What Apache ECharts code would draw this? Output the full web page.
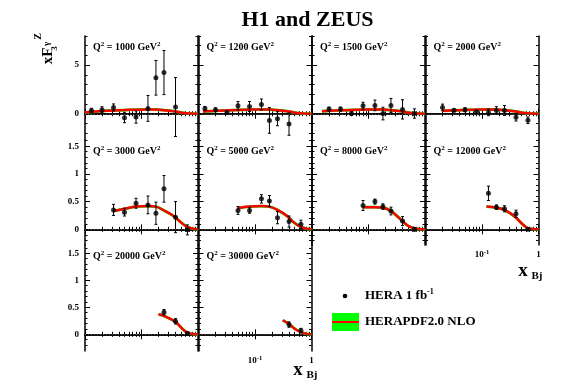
<!DOCTYPE html>
<html><head><meta charset="utf-8">
<script src="https://cdn.jsdelivr.net/npm/echarts@6/dist/echarts.min.js"></script>
<style>html,body{margin:0;padding:0;background:#fff}#c{width:567px;height:390px}</style>
</head><body><div id="c"></div>
<script>
const FONT = '"Liberation Serif", "DejaVu Serif", serif';

// ---- data ----
const panelQ2 = [1000, 1200, 1500, 2000, 3000, 5000, 8000, 12000, 20000, 30000];

const x1000 = [0.013, 0.02, 0.032, 0.05, 0.08, 0.13, 0.18, 0.25, 0.4];
const y1000 = [0.34, 0.41, 0.65, -0.41, -0.34, 0.55, 3.7, 4.24, 0.69];
const e1000 = [0.22, 0.31, 0.36, 0.51, 0.63, 1.33, 1.78, 2.27, 3.03];
const cx1000 = [0.01, 0.013, 0.02, 0.032, 0.05, 0.08, 0.13, 0.18, 0.25, 0.37, 0.48, 0.63, 0.83, 1];
const cy1000 = [0.12, 0.2, 0.28, 0.34, 0.38, 0.42, 0.44, 0.43, 0.37, 0.26, 0.14, 0.05, 0.01, 0];

const x1200 = [0.013, 0.02, 0.032, 0.05, 0.08, 0.13, 0.18, 0.25, 0.4];
const y1200 = [0.55, 0.41, 0.13, 0.82, 0.75, 0.96, -0.69, -0.51, -1.06];
const e1200 = [0.2, 0.2, 0.2, 0.43, 0.51, 0.56, 1.32, 0.72, 1.15];
const cx1200 = [0.012, 0.02, 0.032, 0.05, 0.08, 0.13, 0.18, 0.25, 0.37, 0.48, 0.63, 0.83, 1];
const cy1200 = [0.22, 0.3, 0.35, 0.39, 0.42, 0.44, 0.43, 0.37, 0.26, 0.14, 0.05, 0.01, 0];

const x1500 = [0.02, 0.032, 0.05, 0.08, 0.13, 0.18, 0.25, 0.4, 0.65];
const y1500 = [0.48, 0.48, 0.03, 0.82, 0.86, 0.02, 0.86, 0.45, 0.02];
const e1500 = [0.2, 0.2, 0.2, 0.36, 0.55, 0.65, 0.72, 0.99, 0.48];
const cx1500 = [0.015, 0.02, 0.032, 0.05, 0.08, 0.13, 0.18, 0.25, 0.37, 0.48, 0.63, 0.83, 1];
const cy1500 = [0.26, 0.3, 0.35, 0.39, 0.42, 0.44, 0.43, 0.37, 0.26, 0.14, 0.05, 0.01, 0];

const x2000 = [0.02, 0.032, 0.05, 0.08, 0.13, 0.18, 0.25, 0.4, 0.65];
const y2000 = [0.65, 0.35, 0.41, 0.2, 0.14, 0.34, 0.34, -0.36, -0.67];
const e2000 = [0.34, 0.15, 0.2, 0.15, 0.34, 0.39, 0.51, 0.39, 0.34];
const cx2000 = [0.02, 0.032, 0.05, 0.08, 0.13, 0.18, 0.25, 0.37, 0.48, 0.63, 0.83, 1];
const cy2000 = [0.3, 0.35, 0.39, 0.42, 0.44, 0.43, 0.37, 0.26, 0.14, 0.05, 0.01, 0];

const x3000 = [0.032, 0.05, 0.08, 0.13, 0.18, 0.25, 0.4, 0.65];
const y3000 = [0.35, 0.31, 0.47, 0.44, 0.29, 0.73, 0.22, -0.01];
const e3000 = [0.1, 0.07, 0.09, 0.16, 0.2, 0.24, 0.28, 0.09];
const cx3000 = [0.032, 0.05, 0.08, 0.13, 0.18, 0.25, 0.37, 0.48, 0.63, 0.83, 1];
const cy3000 = [0.33, 0.37, 0.41, 0.42, 0.41, 0.34, 0.24, 0.14, 0.05, 0.01, 0];

const x5000 = [0.05, 0.08, 0.13, 0.18, 0.25, 0.4, 0.65];
const y5000 = [0.34, 0.34, 0.55, 0.51, 0.21, 0.14, 0.09];
const e5000 = [0.07, 0.05, 0.075, 0.1, 0.11, 0.1, 0.075];
const cx5000 = [0.05, 0.08, 0.13, 0.18, 0.25, 0.37, 0.48, 0.63, 0.83, 1];
const cy5000 = [0.38, 0.41, 0.42, 0.41, 0.35, 0.24, 0.13, 0.05, 0.01, 0];

const x8000 = [0.08, 0.13, 0.18, 0.25, 0.4, 0.65];
const y8000 = [0.43, 0.5, 0.41, 0.33, 0.15, 0.0];
const e8000 = [0.09, 0.045, 0.05, 0.07, 0.08, 0.03];
const cx8000 = [0.08, 0.13, 0.18, 0.25, 0.38, 0.49, 0.66, 0.83, 1];
const cy8000 = [0.4, 0.4, 0.39, 0.33, 0.17, 0.07, 0.015, 0.003, 0];

const x12000 = [0.13, 0.18, 0.25, 0.4, 0.65];
const y12000 = [0.65, 0.4, 0.37, 0.28, 0.0];
const e12000 = [0.13, 0.04, 0.055, 0.066, 0.02];
const cx12000 = [0.12, 0.18, 0.25, 0.38, 0.5, 0.62, 0.8, 1];
const cy12000 = [0.41, 0.39, 0.35, 0.23, 0.11, 0.03, 0.005, 0];

const x20000 = [0.25, 0.4, 0.65];
const y20000 = [0.41, 0.24, 0.02];
const e20000 = [0.05, 0.05, 0.02];
const cx20000 = [0.2, 0.25, 0.4, 0.52, 0.65, 0.85, 1];
const cy20000 = [0.37, 0.34, 0.23, 0.11, 0.03, 0.003, 0];

const x30000 = [0.4, 0.65];
const y30000 = [0.18, 0.07];
const e30000 = [0.05, 0.04];
const cx30000 = [0.31, 0.4, 0.51, 0.65, 0.83, 1];
const cy30000 = [0.26, 0.19, 0.1, 0.04, 0.008, 0];

// ticks and labels
const xMajorTicks = [0.01, 0.1, 1];
const xMinorTicks = [0.02, 0.03, 0.04, 0.05, 0.06, 0.07, 0.08, 0.09, 0.2, 0.3, 0.4, 0.5, 0.6, 0.7, 0.8, 0.9];
const xTickLabels = [0.1, 1];
const yMajorTop = [0, 5];
const yMinorTop = [-2, -1, 1, 2, 3, 4, 6, 7, 8];
const yMajorLow = [0, 0.5, 1, 1.5];
const yMinorLow = [-0.2, -0.1, 0.1, 0.2, 0.3, 0.4, 0.6, 0.7, 0.8, 0.9, 1.1, 1.2, 1.3, 1.4, 1.6];

const panels = [
  {x: x1000, y: y1000, e: e1000, cx: cx1000, cy: cy1000},
  {x: x1200, y: y1200, e: e1200, cx: cx1200, cy: cy1200},
  {x: x1500, y: y1500, e: e1500, cx: cx1500, cy: cy1500},
  {x: x2000, y: y2000, e: e2000, cx: cx2000, cy: cy2000},
  {x: x3000, y: y3000, e: e3000, cx: cx3000, cy: cy3000},
  {x: x5000, y: y5000, e: e5000, cx: cx5000, cy: cy5000},
  {x: x8000, y: y8000, e: e8000, cx: cx8000, cy: cy8000},
  {x: x12000, y: y12000, e: e12000, cx: cx12000, cy: cy12000},
  {x: x20000, y: y20000, e: e20000, cx: cx20000, cy: cy20000},
  {x: x30000, y: y30000, e: e30000, cx: cx30000, cy: cy30000}
];

// ---- layout ----
const colLeft = [85, 198.5, 312, 425.5];
const colW = 113;
const rowTop = [36, 140, 245];
const rowH = [104, 105, 106];
const yRange = [[-2.7, 8], [-0.283, 1.612], [-0.309, 1.654]];
const showXLabels = [7, 9];

const grids = [], xAxes = [], yAxes = [], series = [], graphics = [];
const lineSt = {color: '#000', width: 1.5};

function xAxisDef(gi, pos, ticks, len, showLine, showLabel) {
  return {
    type: 'log', logBase: 10, min: 0.01, max: 1, gridIndex: gi, position: pos,
    axisLine: {show: showLine, lineStyle: lineSt},
    axisTick: {show: true, inside: true, length: len, customValues: ticks, lineStyle: {color: '#000', width: 1}},
    axisLabel: {
      show: showLabel, customValues: xTickLabels, margin: 4, color: '#000',
      formatter: v => Math.abs(v - 1) < 1e-6 ? '{n|1}' : '{n|10}{s|-1}',
      rich: {
        n: {fontSize: 9, fontWeight: 'bold', fontFamily: FONT, color: '#000', lineHeight: 12},
        s: {fontSize: 6.5, fontWeight: 'bold', fontFamily: FONT, color: '#000', verticalAlign: 'top', lineHeight: 7}
      }
    },
    splitLine: {show: false}
  };
}
function yAxisDef(gi, pos, r, ticks, len, showLine, showLabel) {
  return {
    type: 'value', min: yRange[r][0], max: yRange[r][1], gridIndex: gi, position: pos,
    axisLine: {show: showLine, onZero: false, lineStyle: lineSt},
    axisTick: {show: true, inside: true, length: len, customValues: ticks, lineStyle: {color: '#000', width: 1}},
    axisLabel: {
      show: showLabel, customValues: r === 0 ? yMajorTop : yMajorLow, margin: 6,
      fontSize: 9, fontWeight: 'bold', fontFamily: FONT, color: '#000'
    },
    splitLine: {show: false}
  };
}

panels.forEach((p, i) => {
  const r = Math.floor(i / 4), c = i % 4;
  const rect = {left: colLeft[c], top: rowTop[r], width: colW, height: rowH[r]};
  const gMain = grids.length; grids.push(Object.assign({}, rect));
  const gMinor = grids.length; grids.push(Object.assign({}, rect));
  const majY = r === 0 ? yMajorTop : yMajorLow;
  const minY = r === 0 ? yMinorTop : yMinorLow;

  const xb = xAxes.length; xAxes.push(xAxisDef(gMain, 'bottom', xMajorTicks, 5, true, showXLabels.includes(i)));
  xAxes.push(xAxisDef(gMain, 'top', xMajorTicks, 5, true, false));
  xAxes.push(xAxisDef(gMinor, 'bottom', xMinorTicks, 2.5, false, false));
  xAxes.push(xAxisDef(gMinor, 'top', xMinorTicks, 2.5, false, false));
  const yl = yAxes.length; yAxes.push(yAxisDef(gMain, 'left', r, majY, 5, true, c === 0));
  yAxes.push(yAxisDef(gMain, 'right', r, majY, 5, true, false));
  yAxes.push(yAxisDef(gMinor, 'left', r, minY, 2.5, false, false));
  yAxes.push(yAxisDef(gMinor, 'right', r, minY, 2.5, false, false));

  const curve = p.cx.map((x, k) => [x, p.cy[k]]);
  series.push({
    type: 'line', xAxisIndex: xb, yAxisIndex: yl, data: curve, smooth: 0.35, symbol: 'none', silent: true, z: 2,
    lineStyle: {color: '#00ee00', width: 2.8},
    markLine: {
      symbol: ['none', 'none'], silent: true, label: {show: false},
      lineStyle: {type: [1, 2], color: '#555', width: 1}, data: [{yAxis: 0}]
    }
  });
  series.push({
    type: 'line', xAxisIndex: xb, yAxisIndex: yl, data: curve, smooth: 0.35, symbol: 'none', silent: true, z: 3,
    lineStyle: {color: '#ff0000', width: 2.5}
  });
  series.push({
    type: 'custom', xAxisIndex: xb, yAxisIndex: yl, z: 4, silent: true,
    data: p.x.map((x, k) => [x, p.y[k], p.e[k]]),
    encode: {x: 0, y: 1},
    renderItem: (params, api) => {
      const x = api.value(0), y = api.value(1), e = api.value(2);
      const a = api.coord([x, y - e]), b = api.coord([x, y + e]);
      const st = {stroke: '#000', lineWidth: 1};
      return {type: 'group', children: [
        {type: 'line', shape: {x1: a[0], y1: a[1], x2: b[0], y2: b[1]}, style: st},
        {type: 'line', shape: {x1: a[0] - 1.5, y1: a[1], x2: a[0] + 1.5, y2: a[1]}, style: st},
        {type: 'line', shape: {x1: b[0] - 1.5, y1: b[1], x2: b[0] + 1.5, y2: b[1]}, style: st}
      ]};
    }
  });
  series.push({
    type: 'scatter', xAxisIndex: xb, yAxisIndex: yl, z: 5, silent: true,
    data: p.x.map((x, k) => [x, p.y[k]]), symbol: 'circle', symbolSize: 5,
    itemStyle: {color: '#000'}
  });

  graphics.push({
    type: 'text', x: colLeft[c] + 8, y: rowTop[r] + 11, z: 10,
    style: {
      text: '{m|Q}{s|2}{m| = ' + panelQ2[i] + ' GeV}{s|2}',
      fill: '#000', verticalAlign: 'middle', textVerticalAlign: 'middle',
      rich: {
        m: {fontSize: 10, fontWeight: 'bold', fontFamily: FONT, fill: '#000', lineHeight: 13},
        s: {fontSize: 7, fontWeight: 'bold', fontFamily: FONT, fill: '#000', verticalAlign: 'top', lineHeight: 7}
      }
    }
  });
});

// titles and legend
const txt = (x, y, text, size, align, extra) => Object.assign({
  type: 'text', x: x, y: y, z: 10,
  style: {text: text, fill: '#000', font: 'bold ' + size + 'px ' + FONT,
    align: align, textAlign: align, verticalAlign: 'middle', textVerticalAlign: 'middle'}
}, extra || {});

graphics.push(txt(307.5, 20, 'H1 and ZEUS', 22, 'center'));
// y-axis title (rotated)
graphics.push(txt(48, 56, 'xF', 15, 'center', {rotation: Math.PI / 2}));
graphics.push(txt(55, 48.5, '3', 9, 'center', {rotation: Math.PI / 2}));
graphics.push(txt(46.5, 44, 'γ', 9, 'center', {rotation: Math.PI / 2}));
graphics.push(txt(38.5, 36.5, 'Z', 10, 'center', {rotation: Math.PI / 2}));
// x-axis titles
graphics.push(txt(523, 271.5, 'x', 19, 'center'));
graphics.push(txt(537, 276.5, 'Bj', 11, 'center'));
graphics.push(txt(298, 370.5, 'x', 19, 'center'));
graphics.push(txt(312, 375.5, 'Bj', 11, 'center'));
// legend
graphics.push({type: 'circle', shape: {cx: 345, cy: 296, r: 2.3}, style: {fill: '#000'}, z: 10});
graphics.push({
  type: 'text', x: 365, y: 296, z: 10,
  style: {
    text: '{m|HERA 1 fb}{s|-1}', fill: '#000', verticalAlign: 'middle', textVerticalAlign: 'middle',
    rich: {
      m: {fontSize: 13, fontWeight: 'bold', fontFamily: FONT, fill: '#000', lineHeight: 16},
      s: {fontSize: 8, fontWeight: 'bold', fontFamily: FONT, fill: '#000', verticalAlign: 'top', lineHeight: 8}
    }
  }
});
graphics.push({type: 'rect', shape: {x: 332, y: 313, width: 27, height: 18}, style: {fill: '#00ff00'}, z: 10});
graphics.push({type: 'line', shape: {x1: 332, y1: 322, x2: 359, y2: 322}, style: {stroke: '#ff0000', lineWidth: 2}, z: 11});
graphics.push(txt(365, 322, 'HERAPDF2.0 NLO', 13, 'left'));

const chart = echarts.init(document.getElementById('c'), null, {renderer: 'canvas'});
chart.setOption({
  animation: false,
  backgroundColor: '#fff',
  grid: grids, xAxis: xAxes, yAxis: yAxes, series: series,
  graphic: {elements: graphics}
});
</script>
</body></html>
